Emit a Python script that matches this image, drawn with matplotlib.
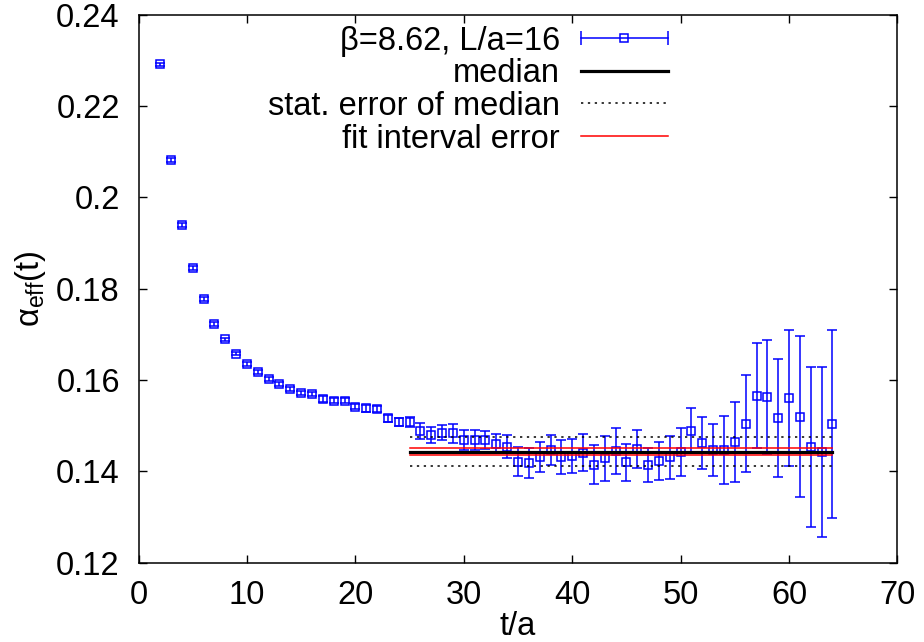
import numpy as np
import matplotlib
matplotlib.use('Agg')
import matplotlib.pyplot as plt
from matplotlib.lines import Line2D
from matplotlib.legend_handler import HandlerTuple, HandlerLine2D
from matplotlib.ticker import FuncFormatter

# ---- data ----
t = list(range(2, 65))
alpha = [0.2291, 0.2082, 0.1939, 0.1845, 0.1777, 0.1723, 0.1689, 0.1658, 0.1635,
         0.1618, 0.1602, 0.1591, 0.1580, 0.1572, 0.1569, 0.1558, 0.1555, 0.1555,
         0.1542, 0.1538, 0.1536, 0.1516, 0.1508, 0.1508, 0.1489, 0.1480, 0.1485,
         0.1483, 0.1469, 0.1469, 0.1469, 0.1461, 0.1454, 0.1421, 0.1419, 0.1431,
         0.1447, 0.1431, 0.1434, 0.1441, 0.1415, 0.1429, 0.1445, 0.1420, 0.1449,
         0.1414, 0.1423, 0.1431, 0.1442, 0.1489, 0.1463, 0.1446, 0.1447, 0.1464,
         0.1504, 0.1566, 0.1563, 0.1517, 0.1561, 0.1520, 0.1453, 0.1442, 0.1504]
err = [0.0004, 0.0004, 0.0004, 0.0004, 0.0004, 0.0004, 0.0004, 0.0004, 0.0004,
       0.0005, 0.0005, 0.0005, 0.0005, 0.0005, 0.0005, 0.0006, 0.0006, 0.0006,
       0.0006, 0.0007, 0.0007, 0.0008, 0.0009, 0.0010, 0.0018, 0.0018, 0.0017,
       0.0020, 0.0022, 0.0022, 0.0020, 0.0020, 0.0025, 0.0032, 0.0033, 0.0033,
       0.0033, 0.0037, 0.0037, 0.0041, 0.0043, 0.0049, 0.0051, 0.0040, 0.0042,
       0.0038, 0.0041, 0.0047, 0.0052, 0.0049, 0.0057, 0.0057, 0.0075, 0.0088,
       0.0106, 0.0115, 0.0124, 0.0129, 0.0149, 0.0177, 0.0175, 0.0186, 0.0206]
fit_range = [25, 64]
median = 0.1443
stat_err = [0.1412, 0.1476]
fit_err = [0.1435, 0.1452]

xticks = [0, 10, 20, 30, 40, 50, 60, 70]
yticks = [0.12, 0.14, 0.16, 0.18, 0.20, 0.22, 0.24]

labels = ['β=8.62, L/a=16', 'median', 'stat. error of median', 'fit interval error']

# ---- style ----
FS = 23.5
plt.rcParams['font.family'] = ['Liberation Sans', 'DejaVu Sans']
plt.rcParams['mathtext.fontset'] = 'custom'
plt.rcParams['mathtext.rm'] = 'Liberation Sans'
plt.rcParams['mathtext.it'] = 'Liberation Sans'
plt.rcParams['font.size'] = FS

fig = plt.figure(figsize=(9.24, 6.42), dpi=100)
W, H = 924, 642
ax = fig.add_axes([138.5 / W, 1 - 562.7 / H, 759 / W, 548 / H])

blue = '#0000ff'
ax.errorbar(t, alpha, yerr=err, fmt='s', color=blue, mfc='none', ms=6.3,
            mew=1.1, elinewidth=1.1, capsize=3.6, capthick=1.1, zorder=2)

dot = (0, (1.5, 3))
ax.plot(fit_range, [median, median], color='black', lw=2.3, zorder=3)
ax.plot(fit_range, [stat_err[0]] * 2, color='black', lw=1.1, ls=dot, zorder=3)
ax.plot(fit_range, [stat_err[1]] * 2, color='black', lw=1.1, ls=dot, zorder=3)
ax.plot(fit_range, [fit_err[0]] * 2, color='red', lw=1.1, zorder=3)
ax.plot(fit_range, [fit_err[1]] * 2, color='red', lw=1.1, zorder=3)

ax.set_xlim(xticks[0], xticks[-1])
ax.set_ylim(yticks[0], yticks[-1])
ax.set_xticks(xticks)
ax.set_yticks(yticks)
ax.yaxis.set_major_formatter(FuncFormatter(lambda v, p: '%g' % round(v, 4)))
ax.tick_params(direction='in', top=True, right=True, length=6, width=1,
               labelsize=FS)
ax.tick_params(axis='x', pad=12.5)
ax.tick_params(axis='y', pad=13.5)
for s in ax.spines.values():
    s.set_linewidth(1.1)

ax.set_xlabel('t/a', labelpad=0)
ax.set_ylabel('α$_{\\mathrm{eff}}$(t)', labelpad=6)

# legend
h_line = Line2D([], [], color=blue, lw=1.1)
h_caps = Line2D([], [], color=blue, ls='none', marker='|', ms=10, mew=1.1)
h_box = Line2D([], [], color=blue, ls='none', marker='s', mfc='none', ms=6.3, mew=1.1)
h_med = Line2D([], [], color='black', lw=2.3)
h_stat = Line2D([], [], color='black', lw=1.1, ls=dot)
h_fit = Line2D([], [], color='red', lw=1.1)
leg = ax.legend([(h_line, h_caps, h_box), h_med, h_stat, h_fit], labels,
                handler_map={tuple: HandlerTuple(ndivide=1, pad=0),
                             h_caps: HandlerLine2D(numpoints=2, marker_pad=0)},
                markerfirst=False, frameon=False, loc='upper right',
                bbox_to_anchor=(0.7015, 0.986), borderaxespad=0, borderpad=0.1,
                handlelength=2.65, handletextpad=0.65, labelspacing=0.05,
                fontsize=FS)

fig.savefig('out.png', dpi=100)
